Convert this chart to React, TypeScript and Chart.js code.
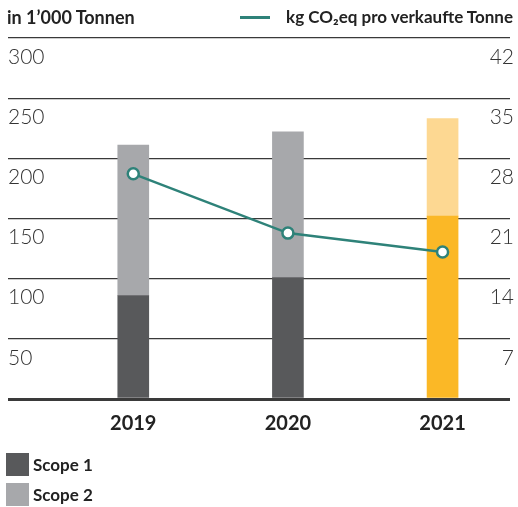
import React, { useEffect, useRef } from "react";
import { Chart, registerables } from "chart.js";

Chart.register(...registerables);

const years = ["2019", "2020", "2021"];
const scope1 = [86, 101, 152];
const scope2 = [125, 121, 81];
const kgPerTonne = [26.2, 19.3, 17.1];
const leftTicks = [0, 50, 100, 150, 200, 250, 300];
const rightTicks = [0, 7, 14, 21, 28, 35, 42];

const DARK = "#58595b";
const LIGHT = "#a7a8ab";
const ORANGE = "#fbb826";
const ORANGE_LIGHT = "#fdd892";
const TEAL = "#2e8279";
const FONT = "Lato, 'Open Sans', sans-serif";

export default function App() {
  const ref = useRef<HTMLCanvasElement | null>(null);

  useEffect(() => {
    document.body.style.margin = "0";
    const canvas = ref.current;
    if (!canvas) return;
    const chart = new Chart(canvas, {
      type: "bar",
      data: {
        datasets: [
          {
            type: "line",
            label: "kg CO2eq pro verkaufte Tonne",
            data: kgPerTonne.map((v, i) => ({ x: i, y: v })),
            yAxisID: "y2",
            borderColor: TEAL,
            borderWidth: 2.5,
            pointRadius: 5.5,
            pointBorderWidth: 2.5,
            pointBackgroundColor: "#ffffff",
            pointBorderColor: TEAL,
            order: 0,
          } as any,
          {
            label: "Scope 1",
            data: scope1.map((v, i) => ({ x: i, y: v })),
            yAxisID: "y",
            backgroundColor: years.map((y) => (y === "2021" ? ORANGE : DARK)),
            barThickness: 31,
            order: 1,
          },
          {
            label: "Scope 2",
            data: scope2.map((v, i) => ({ x: i, y: v })),
            yAxisID: "y",
            backgroundColor: years.map((y) => (y === "2021" ? ORANGE_LIGHT : LIGHT)),
            barThickness: 31,
            order: 2,
          },
        ],
      },
      options: {
        animation: false,
        responsive: false,
        devicePixelRatio: 1,
        layout: { padding: { top: 38, left: 7, right: 1, bottom: 0 } },
        plugins: { legend: { display: false }, tooltip: { enabled: false } },
        scales: {
          x: {
            type: "linear",
            stacked: true,
            offset: false,
            min: -0.81,
            max: 2.436,
            grid: { display: false },
            border: { display: false },
            afterFit: (s: any) => {
              s.height = 108;
              s.paddingLeft = 0;
              s.paddingRight = 0;
            },
            afterBuildTicks: (s: any) => {
              s.ticks = years.map((_, i) => ({ value: i }));
            },
            ticks: {
              padding: 5,
              color: "#222",
              font: { family: FONT, size: 20, weight: "bold" },
              callback: (v: any) => years[Number(v)] ?? "",
            },
          },
          y: {
            type: "linear",
            position: "left",
            stacked: true,
            min: 0,
            max: 300,
            afterFit: (s: any) => {
              s.width = 0;
            },
            afterBuildTicks: (s: any) => {
              s.ticks = leftTicks.map((v) => ({ value: v }));
            },
            border: { display: false },
            grid: {
              drawTicks: false,
              color: "#3a3a3a",
              lineWidth: (c: any) => (c.tick && c.tick.value === 0 ? 3 : 1.3),
            },
            ticks: {
              mirror: true,
              padding: 0,
              labelOffset: 19,
              color: "#333",
              font: { family: FONT, size: 21, weight: "300" },
              callback: (v: any) => (Number(v) === 0 ? "" : String(v)),
            },
          },
          y2: {
            type: "linear",
            position: "right",
            min: 0,
            max: 42,
            afterFit: (s: any) => {
              s.width = 0;
            },
            afterBuildTicks: (s: any) => {
              s.ticks = rightTicks.map((v) => ({ value: v }));
            },
            border: { display: false },
            grid: { display: false, drawTicks: false },
            ticks: {
              mirror: true,
              padding: 4,
              labelOffset: 19,
              color: "#333",
              font: { family: FONT, size: 21, weight: "300" },
              callback: (v: any) => (Number(v) === 0 ? "" : String(v)),
            },
          },
        },
      },
    });
    return () => chart.destroy();
  }, []);

  const headStyle: React.CSSProperties = {
    position: "absolute",
    top: 6,
    fontFamily: FONT,
    fontWeight: 700,
    lineHeight: "22px",
    color: "#222",
    whiteSpace: "nowrap",
  };
  const legText: React.CSSProperties = {
    position: "absolute",
    left: 33,
    fontFamily: FONT,
    fontWeight: 700,
    fontSize: 17,
    lineHeight: "23px",
    color: "#222",
    whiteSpace: "nowrap",
  };

  return (
    <div style={{ position: "relative", width: 518, height: 507, overflow: "hidden", background: "#fff" }}>
      <canvas ref={ref} width={518} height={507} style={{ position: "absolute", left: 0, top: 0 }} />
      <div style={{ ...headStyle, left: 7, fontSize: 18 }}>in 1’000 Tonnen</div>
      <div style={{ position: "absolute", left: 240, top: 16, width: 30, height: 3, background: TEAL }} />
      <div style={{ ...headStyle, right: 5, fontSize: 17 }}>kg CO₂eq pro verkaufte Tonne</div>
      <div style={{ position: "absolute", left: 6, top: 453, width: 23, height: 23, background: DARK }} />
      <div style={{ ...legText, top: 453 }}>Scope 1</div>
      <div style={{ position: "absolute", left: 6, top: 483, width: 23, height: 23, background: LIGHT }} />
      <div style={{ ...legText, top: 483 }}>Scope 2</div>
    </div>
  );
}
